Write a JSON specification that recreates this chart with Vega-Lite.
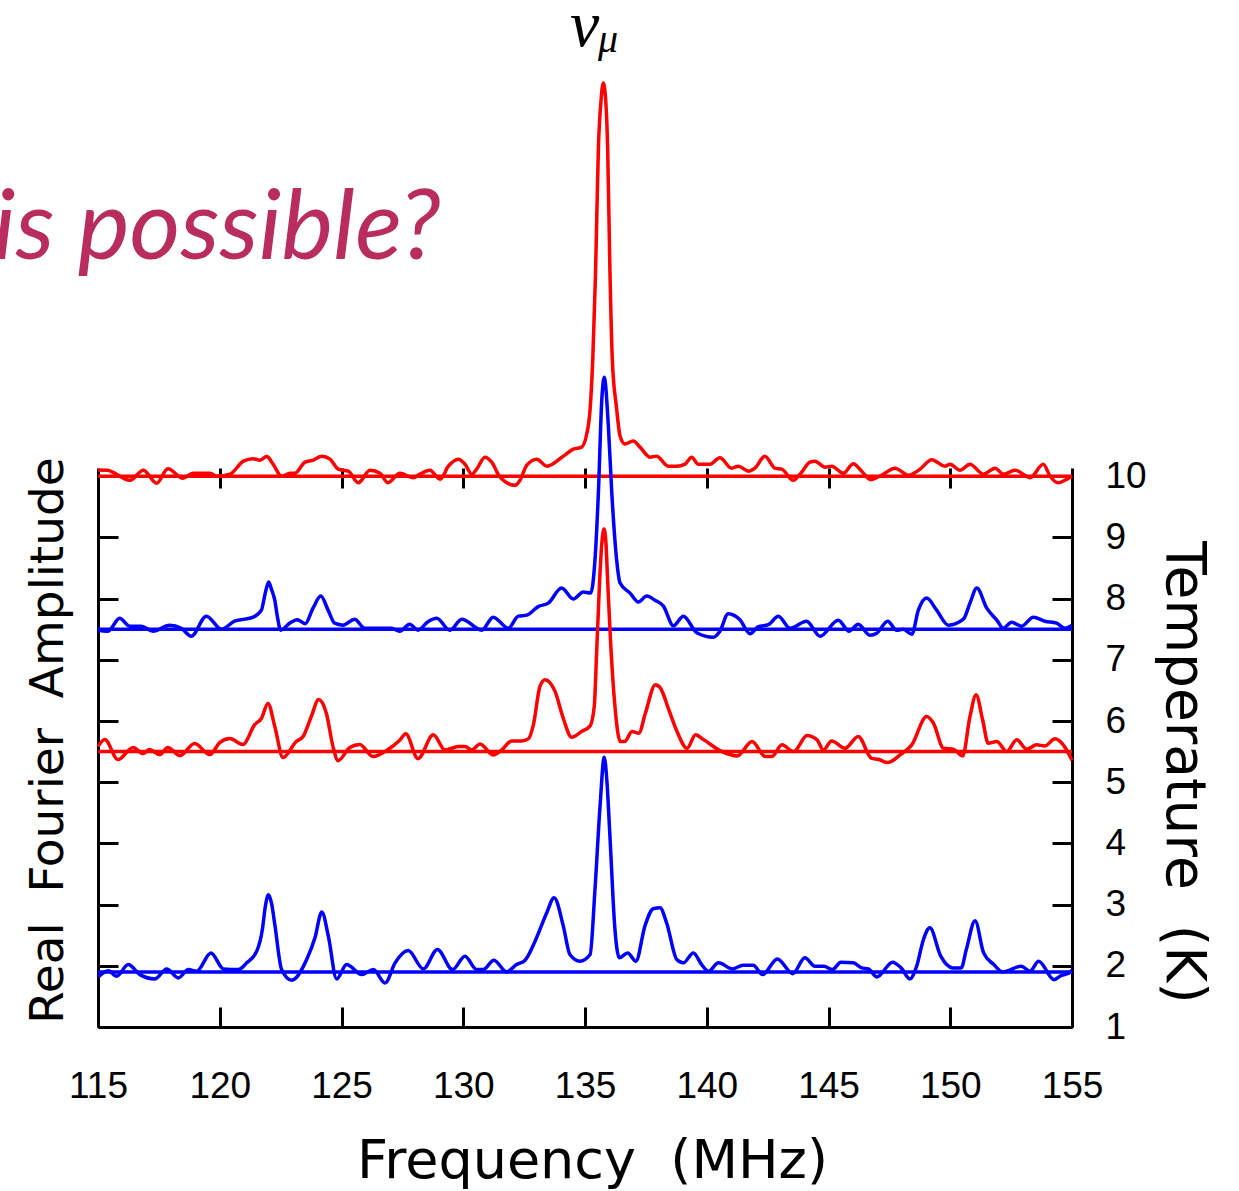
{
  "$schema": "https://vega.github.io/schema/vega-lite/v6.json",
  "width": 974,
  "height": 559,
  "autosize": {"type": "none"},
  "padding": {"left": 98, "top": 468, "right": 167, "bottom": 164},
  "background": "white",
  "config": {"view": {"stroke": null}, "axis": {"grid": false}},
  "datasets": {
    "baselines": [
      {"curve": "10 K", "temp": 10},
      {"curve": "7.5 K", "temp": 7.5},
      {"curve": "5.5 K", "temp": 5.5},
      {"curve": "1.9 K", "temp": 1.9}
    ],
    "curves": [
      {"curve":"10 K","freq":115.00,"temp":10.10},
      {"curve":"10 K","freq":115.36,"temp":10.098},
      {"curve":"10 K","freq":116.31,"temp":9.934},
      {"curve":"10 K","freq":116.86,"temp":10.098},
      {"curve":"10 K","freq":117.41,"temp":9.885},
      {"curve":"10 K","freq":117.87,"temp":10.123},
      {"curve":"10 K","freq":118.49,"temp":9.967},
      {"curve":"10 K","freq":118.90,"temp":10.049},
      {"curve":"10 K","freq":119.60,"temp":10.049},
      {"curve":"10 K","freq":119.87,"temp":10.0},
      {"curve":"10 K","freq":120.42,"temp":10.033},
      {"curve":"10 K","freq":120.97,"temp":10.246},
      {"curve":"10 K","freq":121.37,"temp":10.287},
      {"curve":"10 K","freq":121.65,"temp":10.262},
      {"curve":"10 K","freq":121.93,"temp":10.320},
      {"curve":"10 K","freq":122.19,"temp":10.197},
      {"curve":"10 K","freq":122.54,"temp":10.0},
      {"curve":"10 K","freq":122.89,"temp":10.049},
      {"curve":"10 K","freq":123.09,"temp":10.049},
      {"curve":"10 K","freq":123.50,"temp":10.230},
      {"curve":"10 K","freq":123.84,"temp":10.262},
      {"curve":"10 K","freq":124.19,"temp":10.328},
      {"curve":"10 K","freq":124.53,"temp":10.279},
      {"curve":"10 K","freq":124.87,"temp":10.115},
      {"curve":"10 K","freq":125.28,"temp":10.082},
      {"curve":"10 K","freq":125.69,"temp":9.893},
      {"curve":"10 K","freq":126.17,"temp":10.098},
      {"curve":"10 K","freq":126.58,"temp":10.049},
      {"curve":"10 K","freq":126.91,"temp":9.893},
      {"curve":"10 K","freq":127.40,"temp":10.049},
      {"curve":"10 K","freq":127.94,"temp":9.975},
      {"curve":"10 K","freq":128.22,"temp":10.033},
      {"curve":"10 K","freq":128.63,"temp":10.098},
      {"curve":"10 K","freq":129.05,"temp":9.951},
      {"curve":"10 K","freq":129.39,"temp":10.164},
      {"curve":"10 K","freq":129.80,"temp":10.279},
      {"curve":"10 K","freq":130.07,"temp":10.197},
      {"curve":"10 K","freq":130.35,"temp":10.033},
      {"curve":"10 K","freq":130.55,"temp":10.115},
      {"curve":"10 K","freq":130.89,"temp":10.311},
      {"curve":"10 K","freq":131.17,"temp":10.230},
      {"curve":"10 K","freq":131.51,"temp":9.984},
      {"curve":"10 K","freq":132.13,"temp":9.852},
      {"curve":"10 K","freq":132.33,"temp":9.934},
      {"curve":"10 K","freq":132.61,"temp":10.180},
      {"curve":"10 K","freq":133.02,"temp":10.279},
      {"curve":"10 K","freq":133.43,"temp":10.164},
      {"curve":"10 K","freq":134.11,"temp":10.328},
      {"curve":"10 K","freq":134.52,"temp":10.443},
      {"curve":"10 K","freq":134.86,"temp":10.475},
      {"curve":"10 K","freq":135.07,"temp":10.689},
      {"curve":"10 K","freq":135.21,"temp":11.098},
      {"curve":"10 K","freq":135.32,"temp":11.918},
      {"curve":"10 K","freq":135.43,"temp":13.279},
      {"curve":"10 K","freq":135.55,"temp":15.361},
      {"curve":"10 K","freq":135.66,"temp":16.148},
      {"curve":"10 K","freq":135.75,"temp":16.426},
      {"curve":"10 K","freq":135.84,"temp":16.197},
      {"curve":"10 K","freq":135.93,"temp":15.361},
      {"curve":"10 K","freq":136.02,"temp":13.443},
      {"curve":"10 K","freq":136.12,"temp":11.918},
      {"curve":"10 K","freq":136.30,"temp":11.098},
      {"curve":"10 K","freq":136.44,"temp":10.656},
      {"curve":"10 K","freq":136.64,"temp":10.525},
      {"curve":"10 K","freq":136.98,"temp":10.574},
      {"curve":"10 K","freq":137.26,"temp":10.475},
      {"curve":"10 K","freq":137.67,"temp":10.311},
      {"curve":"10 K","freq":137.94,"temp":10.328},
      {"curve":"10 K","freq":138.42,"temp":10.164},
      {"curve":"10 K","freq":138.76,"temp":10.164},
      {"curve":"10 K","freq":139.11,"temp":10.197},
      {"curve":"10 K","freq":139.38,"temp":10.311},
      {"curve":"10 K","freq":139.65,"temp":10.197},
      {"curve":"10 K","freq":140.13,"temp":10.197},
      {"curve":"10 K","freq":140.54,"temp":10.303},
      {"curve":"10 K","freq":141.02,"temp":10.131},
      {"curve":"10 K","freq":141.30,"temp":10.164},
      {"curve":"10 K","freq":141.71,"temp":10.082},
      {"curve":"10 K","freq":141.98,"temp":10.131},
      {"curve":"10 K","freq":142.39,"temp":10.328},
      {"curve":"10 K","freq":142.80,"temp":10.131},
      {"curve":"10 K","freq":143.08,"temp":10.115},
      {"curve":"10 K","freq":143.55,"temp":9.934},
      {"curve":"10 K","freq":143.83,"temp":10.033},
      {"curve":"10 K","freq":144.24,"temp":10.230},
      {"curve":"10 K","freq":144.44,"temp":10.246},
      {"curve":"10 K","freq":144.86,"temp":10.148},
      {"curve":"10 K","freq":145.13,"temp":10.164},
      {"curve":"10 K","freq":145.61,"temp":10.049},
      {"curve":"10 K","freq":146.02,"temp":10.205},
      {"curve":"10 K","freq":146.36,"temp":10.082},
      {"curve":"10 K","freq":146.73,"temp":9.943},
      {"curve":"10 K","freq":147.18,"temp":10.016},
      {"curve":"10 K","freq":147.73,"temp":10.131},
      {"curve":"10 K","freq":148.28,"temp":10.016},
      {"curve":"10 K","freq":148.76,"temp":10.115},
      {"curve":"10 K","freq":149.24,"temp":10.270},
      {"curve":"10 K","freq":149.78,"temp":10.164},
      {"curve":"10 K","freq":149.99,"temp":10.197},
      {"curve":"10 K","freq":150.40,"temp":10.098},
      {"curve":"10 K","freq":150.81,"temp":10.197},
      {"curve":"10 K","freq":151.36,"temp":10.033},
      {"curve":"10 K","freq":151.84,"temp":10.131},
      {"curve":"10 K","freq":152.18,"temp":10.033},
      {"curve":"10 K","freq":152.66,"temp":10.098},
      {"curve":"10 K","freq":153.28,"temp":9.975},
      {"curve":"10 K","freq":153.82,"temp":10.197},
      {"curve":"10 K","freq":154.10,"temp":10.0},
      {"curve":"10 K","freq":154.44,"temp":9.893},
      {"curve":"10 K","freq":154.71,"temp":9.934},
      {"curve":"10 K","freq":155.00,"temp":10.0},

      {"curve":"7.5 K","freq":115.00,"temp":7.484},
      {"curve":"7.5 K","freq":115.41,"temp":7.467},
      {"curve":"7.5 K","freq":115.89,"temp":7.680},
      {"curve":"7.5 K","freq":116.30,"temp":7.549},
      {"curve":"7.5 K","freq":116.78,"temp":7.549},
      {"curve":"7.5 K","freq":117.26,"temp":7.467},
      {"curve":"7.5 K","freq":117.94,"temp":7.566},
      {"curve":"7.5 K","freq":118.42,"temp":7.516},
      {"curve":"7.5 K","freq":118.83,"temp":7.385},
      {"curve":"7.5 K","freq":119.45,"temp":7.713},
      {"curve":"7.5 K","freq":120.07,"temp":7.5},
      {"curve":"7.5 K","freq":120.61,"temp":7.631},
      {"curve":"7.5 K","freq":121.02,"temp":7.664},
      {"curve":"7.5 K","freq":121.37,"temp":7.697},
      {"curve":"7.5 K","freq":121.71,"temp":7.811},
      {"curve":"7.5 K","freq":121.86,"temp":8.074},
      {"curve":"7.5 K","freq":122.01,"temp":8.270},
      {"curve":"7.5 K","freq":122.12,"temp":8.156},
      {"curve":"7.5 K","freq":122.26,"temp":7.975},
      {"curve":"7.5 K","freq":122.37,"temp":7.697},
      {"curve":"7.5 K","freq":122.50,"temp":7.484},
      {"curve":"7.5 K","freq":122.87,"temp":7.598},
      {"curve":"7.5 K","freq":123.18,"temp":7.656},
      {"curve":"7.5 K","freq":123.51,"temp":7.590},
      {"curve":"7.5 K","freq":123.83,"temp":7.844},
      {"curve":"7.5 K","freq":124.15,"temp":8.041},
      {"curve":"7.5 K","freq":124.45,"temp":7.811},
      {"curve":"7.5 K","freq":124.72,"temp":7.598},
      {"curve":"7.5 K","freq":125.06,"temp":7.566},
      {"curve":"7.5 K","freq":125.54,"temp":7.664},
      {"curve":"7.5 K","freq":125.95,"temp":7.516},
      {"curve":"7.5 K","freq":126.50,"temp":7.516},
      {"curve":"7.5 K","freq":127.05,"temp":7.516},
      {"curve":"7.5 K","freq":127.39,"temp":7.467},
      {"curve":"7.5 K","freq":127.80,"temp":7.582},
      {"curve":"7.5 K","freq":128.14,"temp":7.484},
      {"curve":"7.5 K","freq":128.55,"temp":7.623},
      {"curve":"7.5 K","freq":128.91,"temp":7.680},
      {"curve":"7.5 K","freq":129.45,"temp":7.484},
      {"curve":"7.5 K","freq":129.94,"temp":7.664},
      {"curve":"7.5 K","freq":130.76,"temp":7.484},
      {"curve":"7.5 K","freq":131.23,"temp":7.697},
      {"curve":"7.5 K","freq":131.85,"temp":7.516},
      {"curve":"7.5 K","freq":132.26,"temp":7.713},
      {"curve":"7.5 K","freq":132.61,"temp":7.730},
      {"curve":"7.5 K","freq":133.08,"temp":7.869},
      {"curve":"7.5 K","freq":133.49,"temp":7.926},
      {"curve":"7.5 K","freq":134.04,"temp":8.172},
      {"curve":"7.5 K","freq":134.52,"temp":7.992},
      {"curve":"7.5 K","freq":134.93,"temp":8.107},
      {"curve":"7.5 K","freq":135.23,"temp":8.090},
      {"curve":"7.5 K","freq":135.41,"temp":8.631},
      {"curve":"7.5 K","freq":135.55,"temp":9.730},
      {"curve":"7.5 K","freq":135.69,"temp":11.254},
      {"curve":"7.5 K","freq":135.79,"temp":11.615},
      {"curve":"7.5 K","freq":135.96,"temp":10.811},
      {"curve":"7.5 K","freq":136.10,"temp":9.730},
      {"curve":"7.5 K","freq":136.30,"temp":8.631},
      {"curve":"7.5 K","freq":136.44,"temp":8.254},
      {"curve":"7.5 K","freq":136.85,"temp":8.090},
      {"curve":"7.5 K","freq":137.19,"temp":7.943},
      {"curve":"7.5 K","freq":137.53,"temp":8.041},
      {"curve":"7.5 K","freq":137.87,"temp":7.975},
      {"curve":"7.5 K","freq":138.22,"temp":7.877},
      {"curve":"7.5 K","freq":138.63,"temp":7.557},
      {"curve":"7.5 K","freq":139.04,"temp":7.713},
      {"curve":"7.5 K","freq":139.59,"temp":7.443},
      {"curve":"7.5 K","freq":140.27,"temp":7.369},
      {"curve":"7.5 K","freq":140.54,"temp":7.467},
      {"curve":"7.5 K","freq":140.88,"temp":7.754},
      {"curve":"7.5 K","freq":141.36,"temp":7.656},
      {"curve":"7.5 K","freq":141.78,"temp":7.426},
      {"curve":"7.5 K","freq":142.12,"temp":7.541},
      {"curve":"7.5 K","freq":142.53,"temp":7.574},
      {"curve":"7.5 K","freq":142.94,"temp":7.713},
      {"curve":"7.5 K","freq":143.42,"temp":7.516},
      {"curve":"7.5 K","freq":144.10,"temp":7.631},
      {"curve":"7.5 K","freq":144.65,"temp":7.385},
      {"curve":"7.5 K","freq":145.40,"temp":7.648},
      {"curve":"7.5 K","freq":145.85,"temp":7.467},
      {"curve":"7.5 K","freq":146.22,"temp":7.582},
      {"curve":"7.5 K","freq":146.70,"temp":7.402},
      {"curve":"7.5 K","freq":146.98,"temp":7.434},
      {"curve":"7.5 K","freq":147.43,"temp":7.631},
      {"curve":"7.5 K","freq":147.80,"temp":7.484},
      {"curve":"7.5 K","freq":148.07,"temp":7.5},
      {"curve":"7.5 K","freq":148.42,"temp":7.418},
      {"curve":"7.5 K","freq":148.69,"temp":7.811},
      {"curve":"7.5 K","freq":149.03,"temp":8.008},
      {"curve":"7.5 K","freq":149.44,"temp":7.811},
      {"curve":"7.5 K","freq":149.92,"temp":7.566},
      {"curve":"7.5 K","freq":150.54,"temp":7.664},
      {"curve":"7.5 K","freq":150.81,"temp":7.926},
      {"curve":"7.5 K","freq":151.09,"temp":8.172},
      {"curve":"7.5 K","freq":151.50,"temp":7.844},
      {"curve":"7.5 K","freq":151.91,"temp":7.648},
      {"curve":"7.5 K","freq":152.18,"temp":7.516},
      {"curve":"7.5 K","freq":152.52,"temp":7.615},
      {"curve":"7.5 K","freq":152.93,"temp":7.549},
      {"curve":"7.5 K","freq":153.41,"temp":7.697},
      {"curve":"7.5 K","freq":153.89,"temp":7.631},
      {"curve":"7.5 K","freq":154.37,"temp":7.598},
      {"curve":"7.5 K","freq":154.71,"temp":7.516},
      {"curve":"7.5 K","freq":155.00,"temp":7.566},

      {"curve":"5.5 K","freq":115.00,"temp":5.582},
      {"curve":"5.5 K","freq":115.28,"temp":5.697},
      {"curve":"5.5 K","freq":115.82,"temp":5.369},
      {"curve":"5.5 K","freq":116.44,"temp":5.566},
      {"curve":"5.5 K","freq":116.85,"temp":5.467},
      {"curve":"5.5 K","freq":117.12,"temp":5.533},
      {"curve":"5.5 K","freq":117.53,"temp":5.451},
      {"curve":"5.5 K","freq":117.87,"temp":5.566},
      {"curve":"5.5 K","freq":118.36,"temp":5.434},
      {"curve":"5.5 K","freq":118.97,"temp":5.631},
      {"curve":"5.5 K","freq":119.59,"temp":5.451},
      {"curve":"5.5 K","freq":120.00,"temp":5.648},
      {"curve":"5.5 K","freq":120.41,"temp":5.713},
      {"curve":"5.5 K","freq":120.95,"temp":5.615},
      {"curve":"5.5 K","freq":121.44,"temp":5.943},
      {"curve":"5.5 K","freq":121.71,"temp":6.041},
      {"curve":"5.5 K","freq":121.98,"temp":6.287},
      {"curve":"5.5 K","freq":122.26,"temp":5.910},
      {"curve":"5.5 K","freq":122.60,"temp":5.402},
      {"curve":"5.5 K","freq":123.14,"temp":5.664},
      {"curve":"5.5 K","freq":123.42,"temp":5.746},
      {"curve":"5.5 K","freq":123.76,"temp":6.074},
      {"curve":"5.5 K","freq":124.06,"temp":6.352},
      {"curve":"5.5 K","freq":124.38,"temp":6.123},
      {"curve":"5.5 K","freq":124.65,"temp":5.582},
      {"curve":"5.5 K","freq":124.86,"temp":5.352},
      {"curve":"5.5 K","freq":125.34,"temp":5.566},
      {"curve":"5.5 K","freq":125.75,"temp":5.615},
      {"curve":"5.5 K","freq":126.29,"temp":5.418},
      {"curve":"5.5 K","freq":126.91,"temp":5.533},
      {"curve":"5.5 K","freq":127.40,"temp":5.69},
      {"curve":"5.5 K","freq":127.64,"temp":5.79},
      {"curve":"5.5 K","freq":128.14,"temp":5.385},
      {"curve":"5.5 K","freq":128.77,"temp":5.774},
      {"curve":"5.5 K","freq":129.25,"temp":5.528},
      {"curve":"5.5 K","freq":129.80,"temp":5.582},
      {"curve":"5.5 K","freq":130.07,"temp":5.582},
      {"curve":"5.5 K","freq":130.35,"temp":5.528},
      {"curve":"5.5 K","freq":130.69,"temp":5.626},
      {"curve":"5.5 K","freq":131.23,"temp":5.446},
      {"curve":"5.5 K","freq":131.58,"temp":5.528},
      {"curve":"5.5 K","freq":131.99,"temp":5.675},
      {"curve":"5.5 K","freq":132.40,"temp":5.675},
      {"curve":"5.5 K","freq":132.67,"temp":5.708},
      {"curve":"5.5 K","freq":132.88,"temp":5.938},
      {"curve":"5.5 K","freq":133.15,"temp":6.566},
      {"curve":"5.5 K","freq":133.36,"temp":6.675},
      {"curve":"5.5 K","freq":133.77,"temp":6.484},
      {"curve":"5.5 K","freq":134.11,"temp":6.041},
      {"curve":"5.5 K","freq":134.45,"temp":5.734},
      {"curve":"5.5 K","freq":134.86,"temp":5.828},
      {"curve":"5.5 K","freq":135.21,"temp":5.921},
      {"curve":"5.5 K","freq":135.38,"temp":6.238},
      {"curve":"5.5 K","freq":135.48,"temp":7.139},
      {"curve":"5.5 K","freq":135.60,"temp":8.287},
      {"curve":"5.5 K","freq":135.70,"temp":8.943},
      {"curve":"5.5 K","freq":135.78,"temp":9.139},
      {"curve":"5.5 K","freq":135.86,"temp":8.910},
      {"curve":"5.5 K","freq":135.94,"temp":8.205},
      {"curve":"5.5 K","freq":136.05,"temp":7.303},
      {"curve":"5.5 K","freq":136.23,"temp":6.238},
      {"curve":"5.5 K","freq":136.45,"temp":5.664},
      {"curve":"5.5 K","freq":136.63,"temp":5.664},
      {"curve":"5.5 K","freq":136.93,"temp":5.828},
      {"curve":"5.5 K","freq":137.21,"temp":5.800},
      {"curve":"5.5 K","freq":137.48,"temp":6.128},
      {"curve":"5.5 K","freq":137.89,"temp":6.593},
      {"curve":"5.5 K","freq":138.10,"temp":6.538},
      {"curve":"5.5 K","freq":138.44,"temp":6.184},
      {"curve":"5.5 K","freq":138.78,"temp":5.828},
      {"curve":"5.5 K","freq":139.19,"temp":5.554},
      {"curve":"5.5 K","freq":139.54,"temp":5.774},
      {"curve":"5.5 K","freq":139.88,"temp":5.692},
      {"curve":"5.5 K","freq":140.63,"temp":5.5},
      {"curve":"5.5 K","freq":141.25,"temp":5.430},
      {"curve":"5.5 K","freq":141.86,"temp":5.664},
      {"curve":"5.5 K","freq":142.41,"temp":5.418},
      {"curve":"5.5 K","freq":142.68,"temp":5.42},
      {"curve":"5.5 K","freq":143.09,"temp":5.610},
      {"curve":"5.5 K","freq":143.57,"temp":5.5},
      {"curve":"5.5 K","freq":144.12,"temp":5.762},
      {"curve":"5.5 K","freq":144.53,"temp":5.692},
      {"curve":"5.5 K","freq":144.79,"temp":5.528},
      {"curve":"5.5 K","freq":145.13,"temp":5.675},
      {"curve":"5.5 K","freq":145.68,"temp":5.554},
      {"curve":"5.5 K","freq":146.22,"temp":5.746},
      {"curve":"5.5 K","freq":146.77,"temp":5.390},
      {"curve":"5.5 K","freq":147.04,"temp":5.374},
      {"curve":"5.5 K","freq":147.43,"temp":5.320},
      {"curve":"5.5 K","freq":147.94,"temp":5.446},
      {"curve":"5.5 K","freq":148.42,"temp":5.610},
      {"curve":"5.5 K","freq":149.03,"temp":6.074},
      {"curve":"5.5 K","freq":149.31,"temp":5.964},
      {"curve":"5.5 K","freq":149.72,"temp":5.554},
      {"curve":"5.5 K","freq":150.13,"temp":5.538},
      {"curve":"5.5 K","freq":150.51,"temp":5.430},
      {"curve":"5.5 K","freq":150.81,"temp":6.074},
      {"curve":"5.5 K","freq":151.06,"temp":6.430},
      {"curve":"5.5 K","freq":151.33,"temp":6.020},
      {"curve":"5.5 K","freq":151.56,"temp":5.636},
      {"curve":"5.5 K","freq":151.91,"temp":5.664},
      {"curve":"5.5 K","freq":152.32,"temp":5.5},
      {"curve":"5.5 K","freq":152.73,"temp":5.692},
      {"curve":"5.5 K","freq":153.14,"temp":5.538},
      {"curve":"5.5 K","freq":153.55,"temp":5.610},
      {"curve":"5.5 K","freq":153.89,"temp":5.593},
      {"curve":"5.5 K","freq":154.30,"temp":5.708},
      {"curve":"5.5 K","freq":154.64,"temp":5.610},
      {"curve":"5.5 K","freq":155.00,"temp":5.36},

      {"curve":"1.9 K","freq":115.01,"temp":1.818},
      {"curve":"1.9 K","freq":115.42,"temp":1.921},
      {"curve":"1.9 K","freq":115.77,"temp":1.830},
      {"curve":"1.9 K","freq":116.24,"temp":2.020},
      {"curve":"1.9 K","freq":116.72,"temp":1.856},
      {"curve":"1.9 K","freq":117.34,"temp":1.785},
      {"curve":"1.9 K","freq":117.82,"temp":1.949},
      {"curve":"1.9 K","freq":118.30,"temp":1.802},
      {"curve":"1.9 K","freq":118.71,"temp":1.938},
      {"curve":"1.9 K","freq":119.05,"temp":1.911},
      {"curve":"1.9 K","freq":119.64,"temp":2.211},
      {"curve":"1.9 K","freq":120.15,"temp":1.949},
      {"curve":"1.9 K","freq":120.76,"temp":1.938},
      {"curve":"1.9 K","freq":121.11,"temp":2.048},
      {"curve":"1.9 K","freq":121.52,"temp":2.239},
      {"curve":"1.9 K","freq":121.75,"temp":2.593},
      {"curve":"1.9 K","freq":121.87,"temp":2.966},
      {"curve":"1.9 K","freq":122.00,"temp":3.162},
      {"curve":"1.9 K","freq":122.13,"temp":3.015},
      {"curve":"1.9 K","freq":122.27,"temp":2.649},
      {"curve":"1.9 K","freq":122.54,"temp":1.938},
      {"curve":"1.9 K","freq":122.95,"temp":1.764},
      {"curve":"1.9 K","freq":123.57,"temp":2.102},
      {"curve":"1.9 K","freq":123.91,"temp":2.457},
      {"curve":"1.9 K","freq":124.19,"temp":2.879},
      {"curve":"1.9 K","freq":124.46,"temp":2.485},
      {"curve":"1.9 K","freq":124.80,"temp":1.785},
      {"curve":"1.9 K","freq":125.21,"temp":2.020},
      {"curve":"1.9 K","freq":125.83,"temp":1.856},
      {"curve":"1.9 K","freq":126.31,"temp":1.938},
      {"curve":"1.9 K","freq":126.79,"temp":1.720},
      {"curve":"1.9 K","freq":127.20,"temp":2.048},
      {"curve":"1.9 K","freq":127.74,"temp":2.249},
      {"curve":"1.9 K","freq":128.36,"temp":1.949},
      {"curve":"1.9 K","freq":128.94,"temp":2.266},
      {"curve":"1.9 K","freq":129.56,"temp":1.938},
      {"curve":"1.9 K","freq":130.07,"temp":2.157},
      {"curve":"1.9 K","freq":130.55,"temp":1.938},
      {"curve":"1.9 K","freq":130.82,"temp":1.938},
      {"curve":"1.9 K","freq":131.26,"temp":2.092},
      {"curve":"1.9 K","freq":131.78,"temp":1.900},
      {"curve":"1.9 K","freq":132.19,"temp":2.020},
      {"curve":"1.9 K","freq":132.54,"temp":2.092},
      {"curve":"1.9 K","freq":132.95,"temp":2.403},
      {"curve":"1.9 K","freq":133.43,"temp":2.867},
      {"curve":"1.9 K","freq":133.73,"temp":3.113},
      {"curve":"1.9 K","freq":134.11,"temp":2.649},
      {"curve":"1.9 K","freq":134.38,"temp":2.184},
      {"curve":"1.9 K","freq":134.79,"temp":2.075},
      {"curve":"1.9 K","freq":135.21,"temp":2.184},
      {"curve":"1.9 K","freq":135.41,"temp":3.249},
      {"curve":"1.9 K","freq":135.62,"temp":4.621},
      {"curve":"1.9 K","freq":135.79,"temp":5.408},
      {"curve":"1.9 K","freq":135.90,"temp":5.015},
      {"curve":"1.9 K","freq":136.03,"temp":4.069},
      {"curve":"1.9 K","freq":136.23,"temp":2.593},
      {"curve":"1.9 K","freq":136.41,"temp":2.130},
      {"curve":"1.9 K","freq":136.75,"temp":2.211},
      {"curve":"1.9 K","freq":137.09,"temp":2.075},
      {"curve":"1.9 K","freq":137.46,"temp":2.649},
      {"curve":"1.9 K","freq":137.80,"temp":2.933},
      {"curve":"1.9 K","freq":138.08,"temp":2.949},
      {"curve":"1.9 K","freq":138.35,"temp":2.703},
      {"curve":"1.9 K","freq":138.77,"temp":2.102},
      {"curve":"1.9 K","freq":139.04,"temp":2.048},
      {"curve":"1.9 K","freq":139.45,"temp":2.211},
      {"curve":"1.9 K","freq":139.79,"temp":2.020},
      {"curve":"1.9 K","freq":140.07,"temp":1.911},
      {"curve":"1.9 K","freq":140.48,"temp":2.048},
      {"curve":"1.9 K","freq":141.06,"temp":1.949},
      {"curve":"1.9 K","freq":141.49,"temp":2.010},
      {"curve":"1.9 K","freq":141.91,"temp":2.010},
      {"curve":"1.9 K","freq":142.29,"temp":1.856},
      {"curve":"1.9 K","freq":142.90,"temp":2.113},
      {"curve":"1.9 K","freq":143.53,"temp":1.872},
      {"curve":"1.9 K","freq":144.03,"temp":2.130},
      {"curve":"1.9 K","freq":144.45,"temp":1.993},
      {"curve":"1.9 K","freq":144.81,"temp":1.993},
      {"curve":"1.9 K","freq":145.16,"temp":1.938},
      {"curve":"1.9 K","freq":145.51,"temp":2.059},
      {"curve":"1.9 K","freq":146.01,"temp":2.048},
      {"curve":"1.9 K","freq":146.36,"temp":1.966},
      {"curve":"1.9 K","freq":146.64,"temp":1.949},
      {"curve":"1.9 K","freq":146.99,"temp":1.818},
      {"curve":"1.9 K","freq":147.63,"temp":2.059},
      {"curve":"1.9 K","freq":147.98,"temp":1.966},
      {"curve":"1.9 K","freq":148.34,"temp":1.785},
      {"curve":"1.9 K","freq":148.62,"temp":1.993},
      {"curve":"1.9 K","freq":148.90,"temp":2.430},
      {"curve":"1.9 K","freq":149.16,"temp":2.621},
      {"curve":"1.9 K","freq":149.61,"temp":2.157},
      {"curve":"1.9 K","freq":150.10,"temp":1.966},
      {"curve":"1.9 K","freq":150.45,"temp":1.966},
      {"curve":"1.9 K","freq":150.66,"temp":2.266},
      {"curve":"1.9 K","freq":151.02,"temp":2.736},
      {"curve":"1.9 K","freq":151.37,"temp":2.211},
      {"curve":"1.9 K","freq":151.79,"temp":2.020},
      {"curve":"1.9 K","freq":152.15,"temp":1.900},
      {"curve":"1.9 K","freq":152.92,"temp":1.993},
      {"curve":"1.9 K","freq":153.28,"temp":1.911},
      {"curve":"1.9 K","freq":153.63,"temp":2.075},
      {"curve":"1.9 K","freq":154.26,"temp":1.774},
      {"curve":"1.9 K","freq":154.55,"temp":1.839},
      {"curve":"1.9 K","freq":154.90,"temp":1.884},
      {"curve":"1.9 K","freq":155.00,"temp":1.930}
    ]
  },
  "layer": [
    {
      "data": {"name": "baselines"},
      "mark": {"type": "rule", "strokeWidth": 3.5, "clip": false},
      "encoding": {
        "x": {"datum": 115, "type": "quantitative",
          "scale": {"domain": [115, 155], "nice": false, "zero": false},
          "axis": {"orient": "top", "values": [120, 125, 130, 135, 140, 145, 150],
            "labels": false, "domain": false, "ticks": true, "tickSize": -20, "tickWidth": 3,
            "tickColor": "#000000", "title": null, "grid": false}},
        "x2": {"datum": 155},
        "y": {"field": "temp", "type": "quantitative",
          "scale": {"domain": [1, 10.134], "nice": false, "zero": false},
          "axis": {"orient": "right", "values": [1, 2, 3, 4, 5, 6, 7, 8, 9, 10], "format": "d",
            "domain": true, "domainColor": "#000000", "domainWidth": 3,
            "ticks": true, "tickSize": -20, "tickWidth": 3, "tickColor": "#000000",
            "labels": true, "labelFont": "Liberation Sans", "labelFontSize": 37, "labelColor": "#000000",
            "labelAlign": "left", "labelBaseline": "middle", "labelPadding": 53, "labelOverlap": false, "labelFlush": false,
            "title": "Temperature\u00a0\u00a0(K)", "titleFont": "DejaVu Sans", "titleFontSize": 55, "titleFontWeight": "normal",
            "titleColor": "#000000", "titleAngle": 90, "titleX": 94, "titleY": 304, "titleAlign": "center",
            "titleBaseline": "alphabetic", "grid": false}},
        "color": {"field": "curve", "type": "nominal",
          "scale": {"domain": ["10 K", "7.5 K", "5.5 K", "1.9 K"], "range": ["#ff0000", "#0000ff", "#ff0000", "#0000ff"]},
          "legend": null}
      }
    },
    {
      "data": {"name": "curves"},
      "mark": {"type": "line", "strokeWidth": 3.5, "interpolate": "monotone", "clip": false},
      "encoding": {
        "x": {"field": "freq", "type": "quantitative",
          "axis": {"orient": "bottom", "values": [115, 120, 125, 130, 135, 140, 145, 150, 155], "format": "d",
            "domain": true, "domainColor": "#000000", "domainWidth": 3,
            "ticks": true, "tickSize": -20, "tickWidth": 3, "tickColor": "#000000",
            "labels": true, "labelFont": "Liberation Sans", "labelFontSize": 37, "labelColor": "#000000",
            "labelAlign": "center", "labelBaseline": "alphabetic", "labelPadding": 90, "labelOverlap": false, "labelFlush": false,
            "title": "Frequency\u00a0\u00a0(MHz)", "titleFont": "DejaVu Sans", "titleFontSize": 54, "titleFontWeight": "normal",
            "titleColor": "#000000", "titleX": 494, "titleY": 150, "titleAlign": "center", "titleBaseline": "alphabetic",
            "titleAngle": 0, "grid": false}},
        "y": {"field": "temp", "type": "quantitative",
          "axis": {"orient": "left", "values": [1, 2, 3, 4, 5, 6, 7, 8, 9, 10],
            "domain": true, "domainColor": "#000000", "domainWidth": 3,
            "ticks": true, "tickSize": -20, "tickWidth": 3, "tickColor": "#000000",
            "labels": false,
            "title": "Real\u00a0\u00a0Fourier\u00a0\u00a0Amplitude", "titleFont": "DejaVu Sans", "titleFontSize": 47, "titleFontWeight": "normal",
            "titleColor": "#000000", "titleAngle": -90, "titleX": -36, "titleY": 272, "titleAlign": "center",
            "titleBaseline": "alphabetic", "grid": false}},
        "color": {"field": "curve", "type": "nominal", "legend": null}
      }
    },
    {
      "data": {"values": [{}]},
      "mark": {"type": "text", "text": "ν", "font": "Liberation Serif", "fontStyle": "italic", "fontSize": 66,
        "align": "left", "baseline": "alphabetic", "color": "#000000", "clip": false},
      "encoding": {
        "x": {"datum": 134.38, "type": "quantitative", "axis": null},
        "y": {"datum": 17.03, "type": "quantitative", "axis": null}
      }
    },
    {
      "data": {"values": [{}]},
      "mark": {"type": "text", "text": "μ", "font": "Liberation Serif", "fontStyle": "italic", "fontSize": 40,
        "align": "left", "baseline": "alphabetic", "color": "#000000", "clip": false},
      "encoding": {
        "x": {"datum": 135.53, "type": "quantitative", "axis": null},
        "y": {"datum": 16.93, "type": "quantitative", "axis": null}
      }
    },
    {
      "data": {"values": [{}]},
      "mark": {"type": "text", "text": "is possible?", "font": "Lato", "fontStyle": "italic", "fontSize": 98,
        "align": "left", "baseline": "alphabetic", "color": "#b82d5d", "clip": false},
      "encoding": {
        "x": {"datum": 110.69, "type": "quantitative", "axis": null},
        "y": {"datum": 13.55, "type": "quantitative", "axis": null}
      }
    }
  ],
  "resolve": {"axis": {"x": "independent", "y": "independent"}}
}
